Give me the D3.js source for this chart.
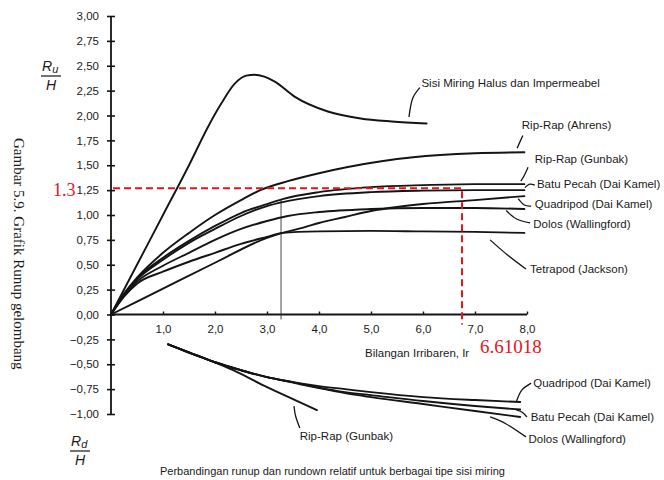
<!DOCTYPE html>
<html><head><meta charset="utf-8">
<script src="https://cdn.jsdelivr.net/npm/d3@7"></script>
<style>
html,body{margin:0;padding:0;background:#fff;}
svg{display:block;}
text{font-family:"Liberation Sans",Arial,sans-serif;fill:#1a1a1a;}
</style></head>
<body>
<svg id="chart" width="664" height="480"></svg>
<script>
// ---------- DATA ----------
const xTicks = [1, 2, 3, 4, 5, 6, 7, 8];
const yTicks = [3, 2.75, 2.5, 2.25, 2, 1.75, 1.5, 1.25, 1, 0.75, 0.5, 0.25, 0, -0.25, -0.5, -0.75, -1];

// Run-up curves (Ir, Ru/H)
const smoothIr = [0, 0.5, 1.0, 1.5, 1.87, 2.12, 2.38, 2.6, 2.76, 2.95, 3.15, 3.53, 4.17, 4.8, 5.4, 6.07];
const smoothRu = [0, 0.5, 1.0, 1.5, 1.89, 2.12, 2.32, 2.40, 2.41, 2.39, 2.34, 2.19, 2.04, 1.97, 1.94, 1.92];

const ahrensIr = [0, 0.25, 0.5, 1.0, 1.5, 2.0, 2.5, 2.87, 3.4, 4.0, 4.53, 5.2, 5.81, 7.0, 7.95];
const ahrensRu = [0, 0.21, 0.37, 0.62, 0.82, 1.00, 1.15, 1.25, 1.34, 1.42, 1.48, 1.54, 1.58, 1.62, 1.63];

const gunbakIr = [0, 0.25, 0.5, 1.0, 1.5, 2.0, 2.5, 3.0, 3.3, 4.0, 5.0, 6.0, 7.0, 7.95];
const gunbakRu = [0, 0.2, 0.36, 0.57, 0.74, 0.89, 1.02, 1.11, 1.16, 1.23, 1.28, 1.30, 1.31, 1.31];

const batuIr = [0, 0.25, 0.5, 1.0, 1.5, 2.0, 2.5, 3.0, 3.3, 4.0, 5.0, 6.0, 7.0, 7.95];
const batuRu = [0, 0.2, 0.35, 0.55, 0.72, 0.86, 0.99, 1.09, 1.13, 1.19, 1.23, 1.245, 1.25, 1.25];

const dolosIr = [0, 0.25, 0.5, 1.0, 1.5, 2.0, 2.5, 3.0, 3.4, 4.0, 5.0, 6.0, 7.0, 7.95];
const dolosRu = [0, 0.19, 0.33, 0.49, 0.62, 0.75, 0.86, 0.94, 0.99, 1.03, 1.06, 1.07, 1.07, 1.06];

const tetraIr = [0, 0.25, 0.5, 1.0, 1.5, 2.0, 2.5, 3.0, 3.3, 4.0, 5.0, 6.0, 7.0, 7.95];
const tetraRu = [0, 0.18, 0.31, 0.43, 0.53, 0.62, 0.71, 0.78, 0.82, 0.835, 0.84, 0.835, 0.83, 0.82];

const quadIr = [0, 1.0, 2.0, 3.0, 3.3, 3.6, 4.0, 4.5, 5.0, 5.5, 6.0, 7.0, 7.95];
const quadRu = [0, 0.26, 0.52, 0.77, 0.82, 0.86, 0.92, 0.98, 1.04, 1.08, 1.11, 1.15, 1.19];

// Run-down curves (Ir, Rd/H)
const rdQuadIr = [1.1, 1.5, 2.0, 2.5, 3.0, 3.5, 4.0, 4.5, 5.0, 6.0, 7.0, 7.87];
const rdQuadRd = [-0.30, -0.38, -0.48, -0.56, -0.63, -0.68, -0.72, -0.75, -0.78, -0.83, -0.86, -0.88];
const rdBatuIr = [1.1, 1.5, 2.0, 2.5, 3.0, 3.5, 4.0, 4.5, 5.0, 6.0, 7.0, 7.87];
const rdBatuRd = [-0.30, -0.38, -0.48, -0.56, -0.63, -0.68, -0.735, -0.78, -0.81, -0.87, -0.92, -0.955];
const rdDolosIr = [1.1, 1.5, 2.0, 2.5, 3.0, 3.5, 4.0, 4.5, 5.0, 6.0, 7.0, 7.87];
const rdDolosRd = [-0.30, -0.38, -0.48, -0.56, -0.63, -0.685, -0.74, -0.79, -0.83, -0.90, -0.97, -1.03];
const rdGunbakIr = [1.1, 1.5, 2.0, 2.35, 3.0, 3.5, 3.96];
const rdGunbakRd = [-0.30, -0.385, -0.48, -0.56, -0.73, -0.85, -0.96];

// Thin reference line at Ir = 3.27
const refIr = 3.27;
const refTop = 1.15;

// Red annotation
const markIr = 6.75;
const markRu = 1.27;
const markIrLabel = "6.61018";
const markRuLabel = "1.3";

// Labels
const upperLabels = ["Sisi Miring Halus dan Impermeabel", "Rip-Rap (Ahrens)", "Rip-Rap (Gunbak)",
  "Batu Pecah (Dai Kamel)", "Quadripod (Dai Kamel)", "Dolos (Wallingford)", "Tetrapod (Jackson)"];
const lowerLabels = ["Quadripod (Dai Kamel)", "Batu Pecah (Dai Kamel)", "Dolos (Wallingford)", "Rip-Rap (Gunbak)"];
const xTitle = "Bilangan Irribaren, Ir";
const caption = "Perbandingan runup dan rundown relatif untuk berbagai tipe sisi miring";
const sideTitle = "Gambar 5.9. Grafik Runup gelombang";

// ---------- LAYOUT (data-unit anchors for annotations) ----------
const upperLayout = [
  {t:[5.97, 2.29], lead:[[5.94, 2.28], [5.80, 2.17], [5.73, 1.985]]},
  {t:[7.90, 1.86], lead:[[7.92, 1.80], [7.86, 1.73], [7.81, 1.67]]},
  {t:[8.15, 1.52], lead:[[8.02, 1.48], [7.95, 1.40], [7.88, 1.34]]},
  {t:[8.19, 1.268], lead:[[8.15, 1.30], [8.05, 1.31], [7.96, 1.275]]},
  {t:[8.15, 1.067], lead:[[8.08, 1.09], [7.95, 1.10], [7.83, 1.165]]},
  {t:[8.12, 0.866], lead:[[8.06, 0.92], [7.80, 0.96], [7.60, 1.045]]},
  {t:[8.06, 0.414], lead:[[7.98, 0.457], [7.62, 0.60], [7.29, 0.75]]}
];
const lowerLayout = [
  {t:[8.12, -0.73], lead:[[8.08, -0.69], [7.90, -0.76], [7.80, -0.87]]},
  {t:[8.07, -1.07], lead:[[8.00, -1.03], [7.90, -0.98], [7.80, -0.96]]},
  {t:[8.03, -1.29], lead:[[7.98, -1.23], [7.60, -1.10], [7.29, -1.03]]},
  {t:[3.63, -1.26], lead:[[3.63, -1.14], [3.55, -1.02], [3.52, -0.92]]}
];

// ---------- DRAW ----------
const svg = d3.select("#chart");
const x = d3.scaleLinear().domain([0, 8]).range([111, 527]);
const y = d3.scaleLinear().domain([-1, 3]).range([414, 16]);

const lineGen = d3.line().x(d => x(d[0])).y(d => y(d[1])).curve(d3.curveMonotoneX);
const zip = (a, b) => a.map((v, i) => [v, b[i]]);

const ink = "#141414";

// Y axis
const yAxis = d3.axisLeft(y).tickValues(yTicks).tickSize(0).tickPadding(12)
  .tickFormat(d => (d < 0 ? "\u2212" : "") + Math.abs(d).toFixed(2).replace(".", ","));
const gy = svg.append("g").attr("transform", `translate(${x(0)},0)`).call(yAxis);
gy.select(".domain").attr("stroke", ink).attr("stroke-width", 1.8).attr("d", `M0,${y(3)}V${y(-1)}`);
gy.selectAll(".tick text").attr("font-size", 11.5).attr("fill", "#222").attr("font-family", "Liberation Sans, Arial, sans-serif");
gy.selectAll(".tick").append("line").attr("x1", -4).attr("x2", 4).attr("stroke", ink).attr("stroke-width", 1.6);

// X axis
const xAxis = d3.axisBottom(x).tickValues(xTicks).tickSize(0).tickPadding(10)
  .tickFormat(d => d.toFixed(1).replace(".", ","));
const gx = svg.append("g").attr("transform", `translate(0,${y(0)})`).call(xAxis);
gx.select(".domain").attr("stroke", ink).attr("stroke-width", 1.8).attr("d", `M${x(0)},0H${x(8)}`);
gx.selectAll(".tick text").attr("font-size", 11.5).attr("fill", "#222").attr("font-family", "Liberation Sans, Arial, sans-serif");
gx.selectAll(".tick").append("line").attr("y1", 0).attr("y2", -3).attr("stroke", ink).attr("stroke-width", 1.4);

// Thin reference line
svg.append("line").attr("x1", x(refIr)).attr("x2", x(refIr)).attr("y1", y(-0.05)).attr("y2", y(refTop))
  .attr("stroke", "#333").attr("stroke-width", 0.9);

// Curves
const upSeries = [[smoothIr, smoothRu], [ahrensIr, ahrensRu], [gunbakIr, gunbakRu], [batuIr, batuRu],
  [dolosIr, dolosRu], [tetraIr, tetraRu], [quadIr, quadRu]];
const downSeries = [[rdQuadIr, rdQuadRd], [rdBatuIr, rdBatuRd], [rdDolosIr, rdDolosRd], [rdGunbakIr, rdGunbakRd]];
svg.append("g").selectAll("path").data(upSeries.concat(downSeries)).join("path")
  .attr("d", s => lineGen(zip(s[0], s[1])))
  .attr("fill", "none").attr("stroke", ink).attr("stroke-width", 1.9)
  .attr("stroke-linejoin", "round").attr("stroke-linecap", "round");

// Leaders + labels
const leadGen = d3.line().x(d => x(d[0])).y(d => y(d[1])).curve(d3.curveNatural);
function drawLabels(names, layout) {
  const g = svg.append("g");
  names.forEach((name, i) => {
    const L = layout[i];
    g.append("path").attr("d", leadGen(L.lead)).attr("fill", "none").attr("stroke", ink).attr("stroke-width", 1.3);
    g.append("text").attr("x", x(L.t[0])).attr("y", y(L.t[1])).attr("font-size", 11.5)
      .attr("text-anchor", "start").text(name);
  });
}
drawLabels(upperLabels, upperLayout);
drawLabels(lowerLabels, lowerLayout);

// Axis titles (fractions)
function fraction(cx, topY, sub) {
  const g = svg.append("g");
  const t = g.append("text").attr("x", cx - 9).attr("y", topY).attr("font-size", 14).attr("font-style", "italic");
  t.append("tspan").text("R");
  t.append("tspan").attr("font-size", 11).attr("dy", 2).text(sub);
  g.append("line").attr("x1", cx - 10).attr("x2", cx + 10).attr("y1", topY + 5).attr("y2", topY + 5)
    .attr("stroke", ink).attr("stroke-width", 1.2);
  g.append("text").attr("x", cx).attr("y", topY + 19).attr("font-size", 14).attr("font-style", "italic")
    .attr("text-anchor", "middle").text("H");
}
fraction(51, 71, "u");
fraction(80, 446, "d");

svg.append("text").attr("x", 365).attr("y", 357).attr("font-size", 11.5).text(xTitle);
svg.append("text").attr("x", 160).attr("y", 475).attr("font-size", 11).text(caption);

svg.append("text").attr("transform", "translate(14,138) rotate(90)")
  .attr("font-size", 15)
  .style("font-family", "'Liberation Serif','Times New Roman',serif").attr("fill", "#333").text(sideTitle);

// Red annotation
const red = "#e8141a";
svg.append("path")
  .attr("d", `M${x(0) + 2},${y(markRu)}H${x(markIr)}V${y(-0.1)}`)
  .attr("fill", "none").attr("stroke", red).attr("stroke-width", 2).attr("stroke-dasharray", "7,4");
svg.append("text").attr("x", x(0) - 58).attr("y", y(markRu) + 8).attr("font-size", 18)
  .style("font-family", "'Liberation Serif','Times New Roman',serif").style("fill", red).text(markRuLabel);
svg.append("text").attr("x", x(markIr) + 18).attr("y", 353).attr("font-size", 19)
  .style("font-family", "'Liberation Serif','Times New Roman',serif").style("fill", red).text(markIrLabel);
</script>
</body></html>
